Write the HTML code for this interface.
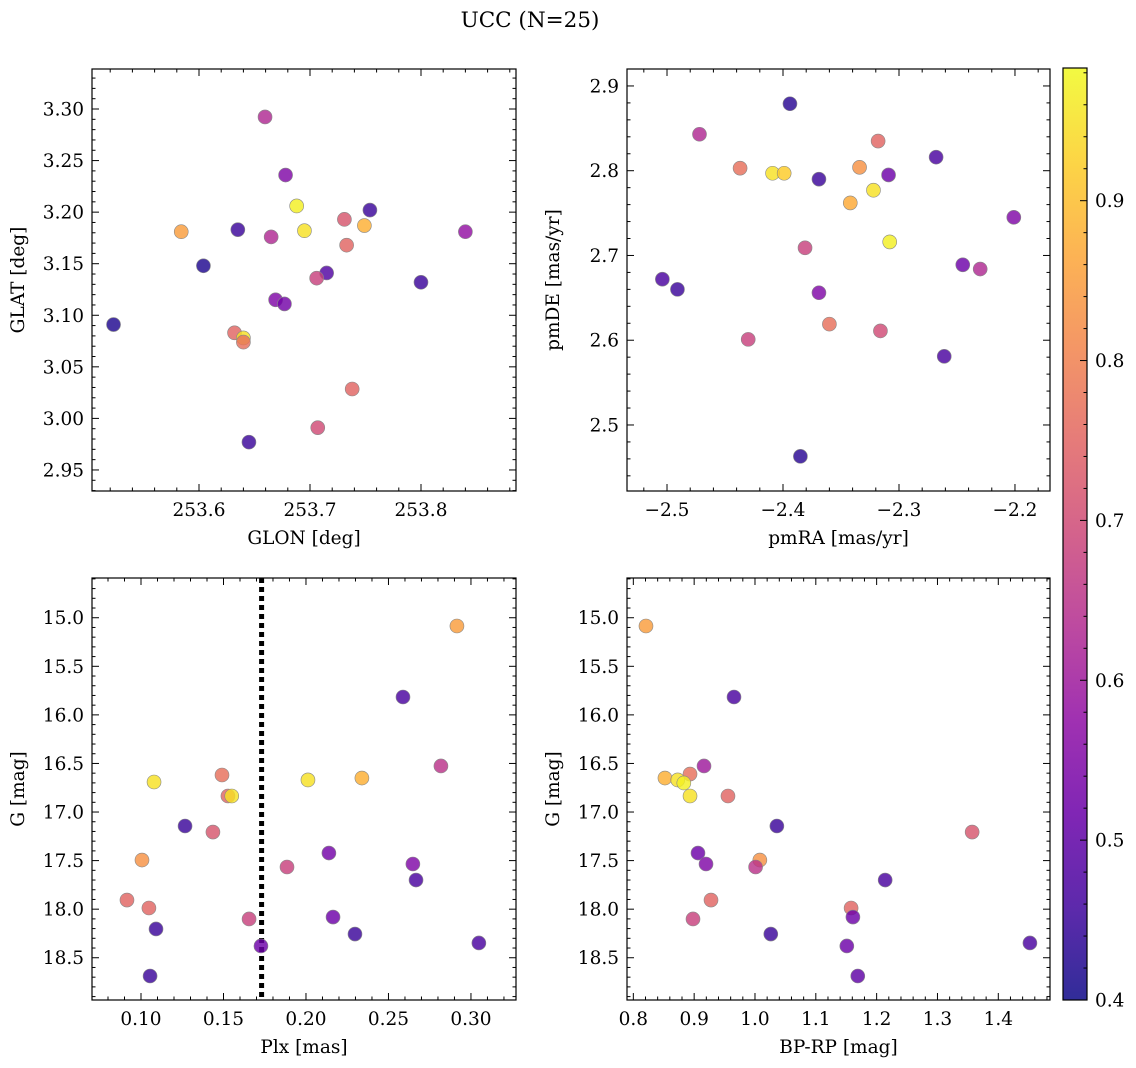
<!DOCTYPE html>
<html><head><meta charset="utf-8"><style>
body{margin:0;background:#fff;}
svg{display:block;font-family:"DejaVu Serif","Liberation Serif",serif;}
</style></head><body>
<svg id="fig" width="1136" height="1068" viewBox="0 0 1136 1068" xmlns="http://www.w3.org/2000/svg">
<defs>
<linearGradient id="plasma" x1="0" y1="1" x2="0" y2="0"></linearGradient>
</defs>
<text x="530" y="27" font-size="21.5" text-anchor="middle">UCC (N=25)</text>
</svg>
<script>
// ---- data ----
const glon = [253.6595,253.678,253.688,253.754,253.584,253.635,253.665,253.695,253.731,253.749,253.733,253.840,253.604,253.715,253.706,253.800,253.669,253.677,253.523,253.632,253.640,253.640,253.738,253.707,253.645];
const glat = [3.2923,3.236,3.206,3.202,3.181,3.183,3.176,3.182,3.193,3.187,3.168,3.181,3.148,3.141,3.136,3.132,3.115,3.111,3.091,3.083,3.078,3.074,3.0285,2.991,2.977];
const probPos = [0.63,0.55,0.97,0.45,0.85,0.45,0.63,0.95,0.72,0.88,0.75,0.58,0.42,0.48,0.68,0.45,0.55,0.53,0.42,0.75,0.95,0.77,0.75,0.70,0.45];

const pmra = [-2.394,-2.472,-2.437,-2.409,-2.399,-2.369,-2.318,-2.334,-2.309,-2.268,-2.342,-2.322,-2.308,-2.381,-2.201,-2.504,-2.491,-2.245,-2.230,-2.369,-2.360,-2.430,-2.316,-2.261,-2.385];
const pmde = [2.879,2.843,2.803,2.797,2.797,2.790,2.835,2.804,2.795,2.816,2.762,2.777,2.716,2.709,2.745,2.672,2.660,2.689,2.684,2.656,2.619,2.601,2.611,2.581,2.463];
const probPm = [0.43,0.63,0.77,0.95,0.92,0.45,0.75,0.83,0.52,0.47,0.87,0.95,0.97,0.68,0.55,0.47,0.45,0.52,0.63,0.55,0.77,0.68,0.70,0.47,0.43];

const plx = [0.2915,0.2588,0.2818,0.1079,0.1491,0.1527,0.155,0.2012,0.2339,0.1267,0.1436,0.1006,0.2139,0.1885,0.2648,0.2667,0.0915,0.1048,0.1091,0.1655,0.2164,0.2297,0.1727,0.3048,0.1055];
const gPlx = [15.085,15.816,16.526,16.691,16.619,16.835,16.835,16.670,16.650,17.144,17.206,17.494,17.422,17.566,17.535,17.700,17.906,17.988,18.204,18.101,18.081,18.256,18.379,18.348,18.688];
const probPlx = [0.85,0.47,0.65,0.95,0.77,0.75,0.95,0.95,0.88,0.45,0.72,0.83,0.53,0.68,0.55,0.47,0.75,0.75,0.45,0.68,0.52,0.45,0.52,0.47,0.45];
const plxLine = 0.1731;

const bprp = [0.8208,0.9655,0.9162,0.852,0.873,0.8932,0.883,0.8932,0.9556,1.036,1.357,1.008,0.9063,0.9195,1.001,1.214,0.9277,1.158,1.161,0.8981,1.026,1.151,1.452,1.169];
const gCmd = [15.085,15.816,16.526,16.650,16.670,16.609,16.701,16.835,16.835,17.144,17.206,17.494,17.422,17.535,17.566,17.700,17.906,17.988,18.081,18.101,18.256,18.379,18.348,18.688];
const probCmd = [0.85,0.47,0.60,0.88,0.95,0.77,0.97,0.95,0.75,0.45,0.72,0.83,0.52,0.55,0.65,0.47,0.75,0.75,0.52,0.68,0.45,0.52,0.47,0.50];

const cbTicks = [0.4,0.5,0.6,0.7,0.8,0.9];
const cMin = 0.4, cMax = 0.983;

// ---- colormap ----
const plasmaStops = ["#0d0887","#41049d","#6a00a8","#8f0da4","#b12a90","#cc4778","#e16462","#f2844b","#fca636","#fcce25","#f0f921"];
function hex(h){return [1,3,5].map(i=>parseInt(h.substr(i,2),16));}
function plasma(t){t=Math.max(0,Math.min(1,t));const s=t*10,i=Math.min(9,Math.floor(s)),f=s-i;
 const a=hex(plasmaStops[i]),b=hex(plasmaStops[i+1]);
 return "rgb("+a.map((v,k)=>Math.round(v+(b[k]-v)*f)).join(",")+")";}
function cnorm(v){return (v-cMin)/(cMax-cMin);}

const NS="http://www.w3.org/2000/svg";
const svg=document.getElementById('fig');
function mk(tag,attrs,parent){const e=document.createElementNS(NS,tag);for(const k in attrs)e.setAttribute(k,attrs[k]);(parent||svg).appendChild(e);return e;}

const grad=document.getElementById('plasma');
plasmaStops.forEach((c,i)=>{mk('stop',{offset:(i/10),'stop-color':c},grad);});

function fmt(v,d){return v.toFixed(d).replace('-','\u2212');}
const FS=18.5;

function panel(o){
 const g=mk('g',{});
 
 
 const X=v=>o.L+(v-o.x0)/(o.x1-o.x0)*(o.R-o.L);
 const Y=v=>o.yInv? o.T+(v-o.y0)/(o.y1-o.y0)*(o.B-o.T) : o.B-(v-o.y0)/(o.y1-o.y0)*(o.B-o.T);
 const tg=mk('g',{stroke:'#000','stroke-width':1},g);
 
 
 const eps=1e-9;
 for(let v=Math.ceil((o.x0)/o.xmin-eps)*o.xmin; v<=o.x1+eps; v+=o.xmin){
   const major=Math.abs(v/o.xmaj-Math.round(v/o.xmaj))<1e-4, len=major?7:3.5, x=X(v);
   mk('line',{x1:x,x2:x,y1:o.B,y2:o.B-len},tg); mk('line',{x1:x,x2:x,y1:o.T,y2:o.T+len},tg);
   if(major){const t=mk('text',{x:x,y:o.B+25,'font-size':FS,'text-anchor':'middle',stroke:'none'},g);t.textContent=fmt(v,o.xd);
     }
 }
 const ylo=Math.min(o.y0,o.y1), yhi=Math.max(o.y0,o.y1);
 for(let v=Math.ceil(ylo/o.ymin-eps)*o.ymin; v<=yhi+eps; v+=o.ymin){
   const major=Math.abs(v/o.ymaj-Math.round(v/o.ymaj))<1e-4, len=major?7:3.5, y=Y(v);
   mk('line',{x1:o.L,x2:o.L+len,y1:y,y2:y},tg); mk('line',{x1:o.R,x2:o.R-len,y1:y,y2:y},tg);
   if(major){const t=mk('text',{x:o.L-8,y:y+6.5,'font-size':FS,'text-anchor':'end'},g);t.textContent=fmt(v,o.yd);
     }
 }
 if(o.vline!==undefined){const l=mk('line',{x1:X(o.vline),x2:X(o.vline),y1:o.T,y2:o.B,stroke:'#000','stroke-width':5,'stroke-dasharray':'5,4'},g);
   }
 o.xs.forEach((xv,i)=>{const c=mk('circle',{cx:X(xv),cy:Y(o.ys[i]),r:7,fill:plasma(cnorm(o.cs[i])),'fill-opacity':0.82,stroke:'#888','stroke-width':0.6},g);
   
   });
 const fr=mk('rect',{x:o.L,y:o.T,width:o.R-o.L,height:o.B-o.T,fill:'none',stroke:'#000','stroke-width':1.2},g);
 
 const xl=mk('text',{x:(o.L+o.R)/2,y:o.B+53,'font-size':FS,'text-anchor':'middle'},g);xl.textContent=o.xl;
 
 const yx=o.L-68, yc=(o.T+o.B)/2;
 const yl=mk('text',{x:yx,y:yc,'font-size':FS,'text-anchor':'middle',transform:'rotate(-90 '+yx+' '+yc+')'},g);yl.textContent=o.yl;
 
}

panel({name:'glon-glat-panel',L:92,R:516,T:69,B:491,x0:253.5036,x1:253.8856,y0:2.9296,y1:3.3388,xmaj:0.1,xmin:0.02,ymaj:0.05,ymin:0.01,xd:1,yd:2,xs:glon,ys:glat,cs:probPos,xl:'GLON [deg]',yl:'GLAT [deg]'});
panel({name:'pm-panel',L:627,R:1050,T:69,B:491,x0:-2.5345,x1:-2.1698,y0:2.4221,y1:2.920,xmaj:0.1,xmin:0.02,ymaj:0.1,ymin:0.02,xd:1,yd:1,xs:pmra,ys:pmde,cs:probPm,xl:'pmRA [mas/yr]',yl:'pmDE [mas/yr]'});
panel({name:'plx-g-panel',L:92,R:516,T:578,B:1000,x0:0.0703,x1:0.3273,y0:14.591,y1:18.935,yInv:true,xmaj:0.05,xmin:0.01,ymaj:0.5,ymin:0.1,xd:2,yd:1,xs:plx,ys:gPlx,cs:probPlx,vline:plxLine,xl:'Plx [mas]',yl:'G [mag]'});
panel({name:'cmd-panel',L:627,R:1050,T:578,B:1000,x0:0.7896,x1:1.485,y0:14.591,y1:18.935,yInv:true,xmaj:0.1,xmin:0.02,ymaj:0.5,ymin:0.1,xd:1,yd:1,xs:bprp,ys:gCmd,cs:probCmd,xl:'BP-RP [mag]',yl:'G [mag]'});

// colorbar
const cb=mk('g',{});


const cL=1063,cR=1087,cT=68,cB=1000;
const CY=v=>cB-(v-cMin)/(cMax-cMin)*(cB-cT);
mk('rect',{x:cL,y:cT,width:cR-cL,height:cB-cT,fill:'url(#plasma)','fill-opacity':0.85,stroke:'#000','stroke-width':1.2},cb);
for(let v=0.4; v<=cMax+1e-9; v+=0.02){const major=Math.abs(v*10-Math.round(v*10))<1e-4;const y=CY(v);
 mk('line',{x1:cR,x2:cR-(major?7:3.5),y1:y,y2:y,stroke:'#000','stroke-width':1},cb);}
cbTicks.forEach(v=>{const t=mk('text',{x:cR+8,y:CY(v)+6.5,'font-size':FS},cb);t.textContent=v.toFixed(1);
 });
</script>
</body></html>
